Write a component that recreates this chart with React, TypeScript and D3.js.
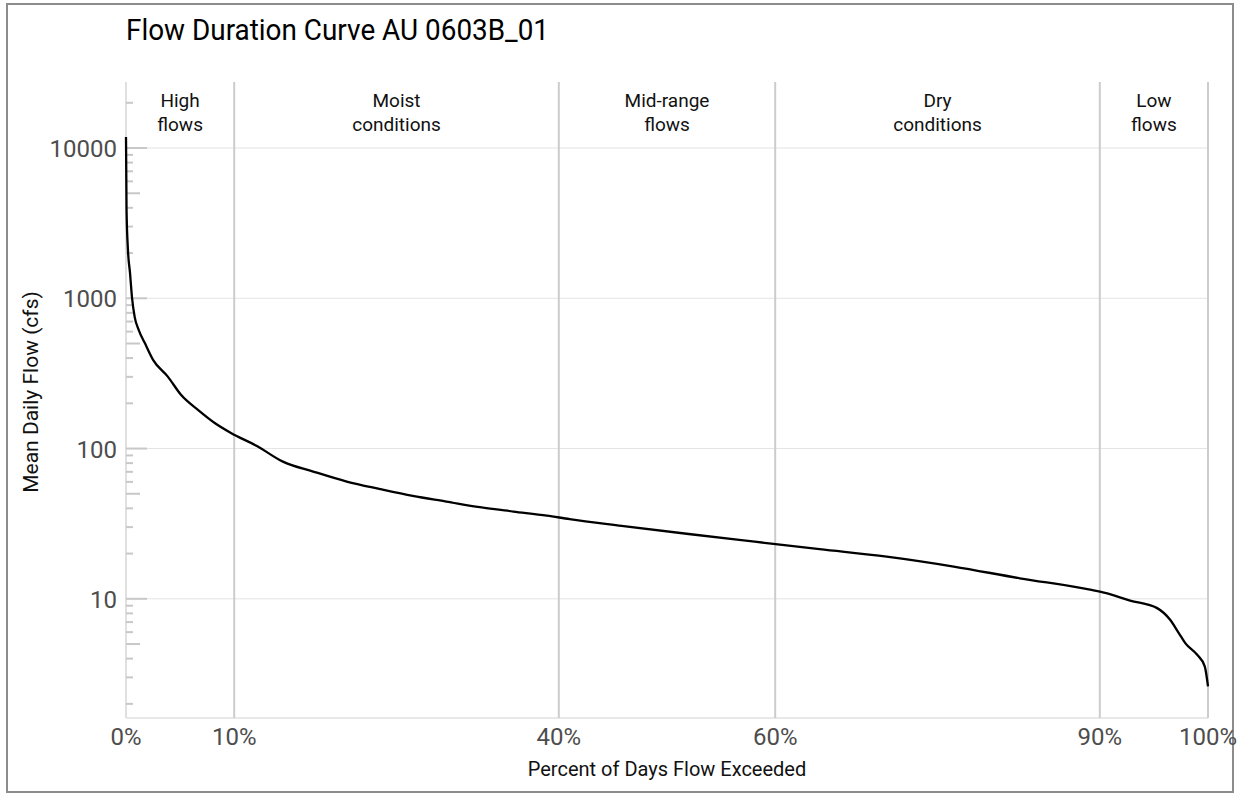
import React from "react";
import * as d3 from "d3";

// flow duration curve
const pctExceeded = [0, 0.05, 0.18, 0.37, 0.55, 0.8, 1.17, 1.73, 2.5, 3.88, 5.08, 6.65, 8.2, 9.7, 12.1, 14.5, 17.3, 20.4, 23.5, 26.5, 29.6, 32.7, 35.8, 38.9, 41.0, 45.8, 52.0, 58.1, 64.1, 70.3, 76.5, 82.6, 89.1, 90.6, 92.8, 95.3, 96.5, 97.3, 97.9, 99.0, 99.7, 100];
const flowCfs = [11860, 3870, 2100, 1476, 1020, 752, 617, 505, 389, 300, 228, 181, 148, 127, 104, 81.8, 70.3, 60.3, 53.7, 48.4, 44.4, 40.7, 38.1, 35.8, 33.9, 30.6, 27.0, 24.0, 21.4, 19.1, 16.4, 13.7, 11.5, 10.9, 9.74, 8.67, 7.25, 5.92, 5.07, 4.24, 3.55, 2.61];

const zoneBreaks = [10, 40, 60, 90];
const zoneLabels = [
  ["High", "flows"],
  ["Moist", "conditions"],
  ["Mid-range", "flows"],
  ["Dry", "conditions"],
  ["Low", "flows"],
];
const xTicks = [0, 10, 40, 60, 90, 100];
const yTicks = [10, 100, 1000, 10000];

const W = 1241;
const H = 793;
const FONT = "Roboto, 'Noto Sans', sans-serif";

export default function App() {
  const x = d3.scaleLinear().domain([0, 100]).range([126, 1208]);
  const y = d3.scaleLog().domain([1.61, 27500]).range([718, 82]);

  const pts = pctExceeded.map((p, i) => [p, flowCfs[i]] as [number, number]);
  const line = d3
    .line<[number, number]>()
    .x((d) => x(d[0]))
    .y((d) => y(d[1]))
    .curve(d3.curveMonotoneX);

  // log ticks: 2..9 x 10^k
  const logTicks: { v: number; len: number }[] = [];
  for (let k = 0; k <= 4; k++) {
    for (let m = 1; m <= 9; m++) {
      const v = m * Math.pow(10, k);
      if (v < 1.61 || v > 27500) continue;
      logTicks.push({ v, len: m === 1 ? 21 : m === 5 ? 14 : 7 });
    }
  }

  const edges = [0, ...zoneBreaks, 100];
  const [top, bottom] = [y.range()[1], y.range()[0]];

  return (
    <div style={{ position: "absolute", left: 0, top: 0 }}>
      <svg width={W} height={H} style={{ display: "block" }} fontFamily={FONT}>
        <rect x={0} y={0} width={W} height={H} fill="#fff" />
        <rect x={7} y={4} width={1226} height={788} fill="none" stroke="#8c8c8c" strokeWidth={2} />

        {/* grid */}
        {yTicks.map((t) => (
          <line key={t} x1={126} x2={1208} y1={y(t)} y2={y(t)} stroke="#e3e3e3" strokeWidth={1} />
        ))}
        <line x1={126} x2={1208} y1={bottom} y2={bottom} stroke="#e0e0e0" strokeWidth={1.5} />
        <line x1={126} x2={126} y1={top} y2={bottom} stroke="#d6d6d6" strokeWidth={1.5} />
        {[...zoneBreaks, 100].map((b) => (
          <line key={b} x1={x(b)} x2={x(b)} y1={top} y2={bottom} stroke="#cccccc" strokeWidth={2} />
        ))}

        {/* log ticks */}
        {logTicks.map((t) => (
          <line key={t.v} x1={126} x2={126 + t.len} y1={y(t.v)} y2={y(t.v)} stroke="#c8c8c8" strokeWidth={2} />
        ))}

        {/* curve */}
        <path d={line(pts) || ""} fill="none" stroke="#000" strokeWidth={2.3} strokeLinejoin="round" />

        {/* zone labels */}
        {zoneLabels.map((lab, i) => {
          const cx = (x(edges[i]) + x(edges[i + 1])) / 2;
          return (
            <text key={i} x={cx} textAnchor="middle" fontSize={19} fill="#111">
              <tspan x={cx} y={107}>{lab[0]}</tspan>
              <tspan x={cx} y={131}>{lab[1]}</tspan>
            </text>
          );
        })}

        {/* y tick labels */}
        {yTicks.map((t) => (
          <text key={t} x={117} y={y(t) + 9} textAnchor="end" fontSize={24} fill="#4d4d4d">
            {t}
          </text>
        ))}

        {/* x tick labels */}
        {xTicks.map((t) => (
          <text key={t} x={x(t)} y={745} textAnchor="middle" fontSize={24} fill="#4d4d4d">
            {t}%
          </text>
        ))}

        <text x={667} y={776} textAnchor="middle" fontSize={20} fill="#111">
          Percent of Days Flow Exceeded
        </text>
        <text transform="translate(38,392) rotate(-90)" textAnchor="middle" fontSize={21} fill="#111">
          Mean Daily Flow (cfs)
        </text>

        <text transform="translate(126,40) scale(0.93,1)" fontSize={30} fill="#000">
          Flow Duration Curve AU 0603B_01
        </text>
      </svg>
    </div>
  );
}
